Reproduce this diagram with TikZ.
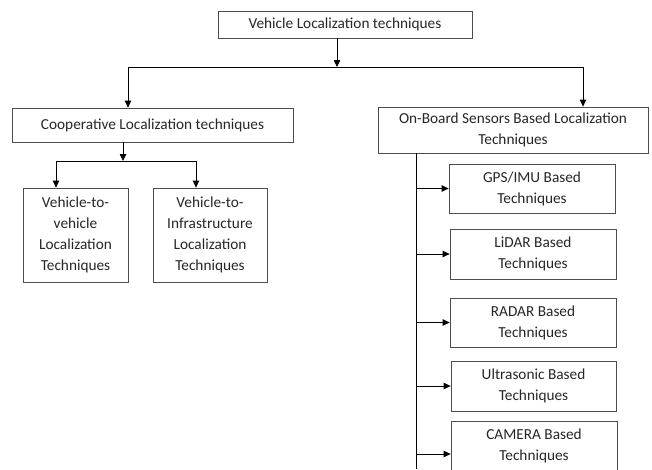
\documentclass[tikz,border=0pt]{standalone}
\usepackage{fontspec}
\setmainfont{Carlito}
\usetikzlibrary{arrows.meta}

\begin{document}
\begin{tikzpicture}[
    x=1pt, y=-1pt,
    font=\fontsize{15.3}{21}\selectfont,
    box/.style={draw=black!70, line width=0.8pt, align=center, inner sep=0pt, text=black!85},
    link/.style={line width=0.8pt},
    arrow/.style={link, -{Triangle[length=7pt,width=6.5pt]}}
]
    \useasboundingbox (0,0) rectangle (652,469);

    % Top level
    \node[box, minimum width=254pt, minimum height=27pt] (vlt) at (345,24.5) {Vehicle Localization techniques};

    % Second level
    \node[box, minimum width=281pt, minimum height=34pt] (clt) at (152.5,125) {Cooperative Localization techniques};
    \node[box, minimum width=270pt, minimum height=46pt] (obt) at (513,130) {On-Board Sensors Based Localization\\Techniques};

    % Cooperative branch
    \node[box, minimum width=105pt, minimum height=94pt] (v2v) at (75.5,235) {Vehicle-to-\\vehicle\\Localization\\Techniques};
    \node[box, minimum width=114pt, minimum height=94pt] (v2i) at (210,235) {Vehicle-to-\\Infrastructure\\Localization\\Techniques};

    % On-board branch
    \node[box, minimum width=166pt, minimum height=49pt] (gps) at (532,188.5) {GPS/IMU Based\\Techniques};
    \node[box, minimum width=166pt, minimum height=50pt] (lidar) at (533,254) {LiDAR Based\\Techniques};
    \node[box, minimum width=166pt, minimum height=49pt] (radar) at (533,322.5) {RADAR Based\\Techniques};
    \node[box, minimum width=165pt, minimum height=50pt] (ultra) at (533.5,386) {Ultrasonic Based\\Techniques};
    \node[box, minimum width=166pt, minimum height=50pt] (camera) at (534,446) {CAMERA Based\\Techniques};

    % Split below the top box
    \coordinate (vltsplit) at (337,67);
    \coordinate (leftdrop) at (128,67);
    \coordinate (rightdrop) at (583,67);
    \draw[arrow] (vltsplit |- vlt.south) -- (vltsplit);
    \draw[link] (leftdrop) -- (rightdrop);
    \draw[arrow] (leftdrop) -- (leftdrop |- clt.north);
    \draw[arrow] (rightdrop) -- (rightdrop |- obt.north);

    % Split below the cooperative box
    \coordinate (cltsplit) at (123,161);
    \coordinate (v2vdrop) at (56,161);
    \coordinate (v2idrop) at (196,161);
    \draw[arrow] (cltsplit |- clt.south) -- (cltsplit);
    \draw[link] (v2vdrop) -- (v2idrop);
    \draw[arrow] (v2vdrop) -- (v2vdrop |- v2v.north);
    \draw[arrow] (v2idrop) -- (v2idrop |- v2i.north);

    % Trunk of the on-board branch
    \coordinate (trunkend) at (416,469);
    \coordinate (camtap) at (416,454);
    \draw[link] (trunkend |- obt.south) -- (trunkend);
    \foreach \n in {gps,lidar,radar,ultra}
        \draw[arrow] (trunkend |- \n.west) -- (\n.west);
    \draw[arrow] (camtap) -- (camtap -| camera.west);
\end{tikzpicture}
\end{document}
